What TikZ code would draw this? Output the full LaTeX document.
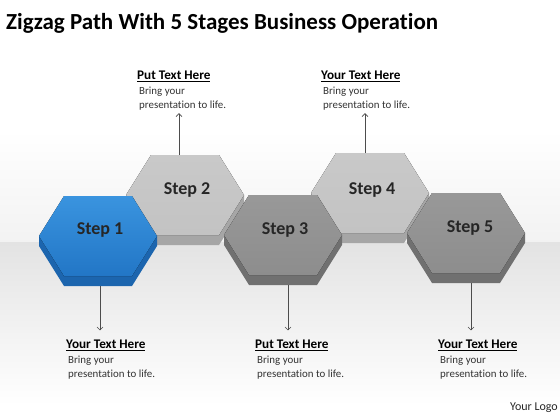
\documentclass[tikz,border=0pt]{standalone}
\usepackage{fontspec}
\setmainfont{Carlito}[Ligatures=NoCommon]
\usepackage{xcolor}
\usetikzlibrary{arrows.meta, positioning, calc}
\definecolor{hexbluetop}{HTML}{3A94DF}
\definecolor{hexbluebot}{HTML}{2276C6}
\definecolor{hexblueside}{HTML}{1C65AE}
\definecolor{hexlight}{HTML}{C3C3C3}
\definecolor{hexlightside}{HTML}{A6A6A6}
\definecolor{hexdark}{HTML}{8D8D8D}
\definecolor{hexdarkside}{HTML}{707070}
\tikzset{
    steplabel/.style={font=\fontsize{18}{18}\selectfont\bfseries, text=black!85, inner sep=1pt},
    headtext/.style={font=\fontsize{13.2}{13}\selectfont\bfseries, anchor=west, inner sep=0pt},
    bodytext/.style={font=\fontsize{10.9}{14}\selectfont, text=black!80, align=left, inner sep=0pt},
    logotext/.style={font=\fontsize{12}{12}\selectfont, text=black!85, anchor=east, inner sep=0pt},
    arrowline/.style={-{Straight Barb[length=3pt,width=6pt]}, draw=gray!60!black, line width=0.6pt},
    bluefill/.style={top color=hexbluetop, bottom color=hexbluebot},
    lightfill/.style={top color=hexlight!90!white, bottom color=hexlight},
    darkfill/.style={top color=hexdark!90!white, bottom color=hexdark},
    pics/hexstep/.style n args={2}{code={
        \fill[#2] (-59,0) -- (-59,10) -- (-34,50) -- (34,50) -- (59,10) -- (59,0) -- cycle;
        \fill[#1] (-59,0) -- (-34,-40) -- (34,-40) -- (59,0) -- (34,40) -- (-34,40) -- cycle;
    }}
}

\begin{document}
\begin{tikzpicture}[x=1pt, y=-1pt]
  \useasboundingbox (0,0) rectangle (560,420);
  % background
  \fill[white] (0,0) rectangle (560,420);
  \fill[top color=white, bottom color=gray!10] (0,130) rectangle (560,242);
  \fill[top color=gray!22, bottom color=white] (0,242) rectangle (560,405);
  \node[anchor=west, font=\fontsize{23}{23}\selectfont\bfseries, inner sep=0pt] (title) at (6,23) {Zigzag Path With 5 Stages Business Operation};
  % hexagons, upper row first
  \pic at (185,195) {hexstep={lightfill}{hexlightside}};
  \pic at (370,193) {hexstep={lightfill}{hexlightside}};
  \pic at (98,236) {hexstep={bluefill}{hexblueside}};
  \pic at (283,235) {hexstep={darkfill}{hexdarkside}};
  \pic at (466,233) {hexstep={darkfill}{hexdarkside}};
  \node[steplabel] (s1) at (100,230) {Step 1};
  \node[steplabel] (s2) at (187,190) {Step 2};
  \node[steplabel] (s3) at (285,230) {Step 3};
  \node[steplabel] (s4) at (372,190) {Step 4};
  \node[steplabel] (s5) at (470,228) {Step 5};
  % texts above
  \node[headtext] (h2) at (137,76) {\underline{Put Text Here}};
  \node[bodytext, below right=5pt and 2pt of h2.south west] (b2) {Bring your\\presentation to life.};
  \node[headtext] (h4) at (321,76) {\underline{Your Text Here}};
  \node[bodytext, below right=5pt and 2pt of h4.south west] (b4) {Bring your\\presentation to life.};
  % texts below
  \node[headtext] (h1) at (66,345) {\underline{Your Text Here}};
  \node[bodytext, below right=5pt and 2pt of h1.south west] (b1) {Bring your\\presentation to life.};
  \node[headtext] (h3) at (255,345) {\underline{Put Text Here}};
  \node[bodytext, below right=5pt and 2pt of h3.south west] (b3) {Bring your\\presentation to life.};
  \node[headtext] (h5) at (438,345) {\underline{Your Text Here}};
  \node[bodytext, below right=5pt and 2pt of h5.south west] (b5) {Bring your\\presentation to life.};
  \node[logotext] (logo) at (558,408) {Your Logo};
  % arrows
  \coordinate (t2) at (179,155);
  \coordinate (t4) at (365,153);
  \coordinate (d1) at (100,286);
  \coordinate (d3) at (288,285);
  \coordinate (d5) at (471,283);
  \draw[arrowline] (t2) -- ([yshift=-3pt]t2 |- b2.south);
  \draw[arrowline] (t4) -- ([yshift=-3pt]t4 |- b4.south);
  \draw[arrowline] (d1) -- ([yshift=9pt]d1 |- h1.north);
  \draw[arrowline] (d3) -- ([yshift=9pt]d3 |- h3.north);
  \draw[arrowline] (d5) -- ([yshift=9pt]d5 |- h5.north);
\end{tikzpicture}
\end{document}
